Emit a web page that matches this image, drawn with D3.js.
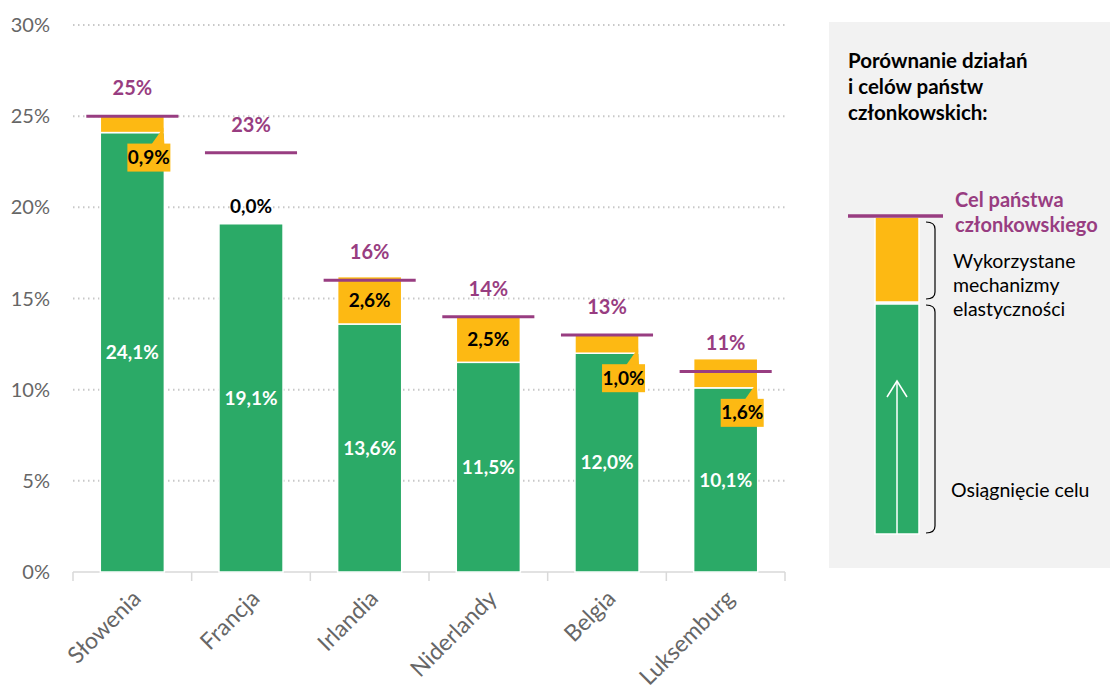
<!DOCTYPE html>
<html>
<head>
<meta charset="utf-8">
<script src="https://cdn.jsdelivr.net/npm/d3@7"></script>
<style>
  body { margin: 0; background: #fff; }
  svg { display: block; font-family: Lato, "Open Sans", sans-serif; }
</style>
</head>
<body>
<svg id="chart" width="1110" height="686"></svg>
<script>
// data
const countries = ["Słowenia", "Francja", "Irlandia", "Niderlandy", "Belgia", "Luksemburg"];
const achieved = [24.1, 19.1, 13.6, 11.5, 12.0, 10.1];
const flexibility = [0.9, 0.0, 2.6, 2.5, 1.0, 1.6];
const targets = [25, 23, 16, 14, 13, 11];
const yTicks = [0, 5, 10, 15, 20, 25, 30];

const green = "#2BAA67", orange = "#FDB913", purple = "#983D81";
const fmt = v => v.toFixed(1).replace(".", ",") + "%";

const svg = d3.select("#chart");

const x = d3.scaleBand().domain(countries).range([73, 785]).padding(0);
const y = d3.scaleLinear().domain([0, 30]).range([572, 25]);
const barW = x.bandwidth() * 0.54;

// gridlines + y labels
svg.append("g").selectAll("line").data(yTicks.filter(d => d > 0)).join("line")
    .attr("x1", 73).attr("x2", 785)
    .attr("y1", d => y(d)).attr("y2", d => y(d))
    .attr("stroke", "#C8C8C8").attr("stroke-width", 2)
    .attr("stroke-dasharray", "1.5,3.5");

svg.append("g").selectAll("text").data(yTicks).join("text")
    .attr("x", 50).attr("y", d => y(d)).attr("dy", "0.35em")
    .attr("text-anchor", "end")
    .attr("font-size", 20).attr("fill", "#666")
    .text(d => d + "%");

// x axis
const xAxis = svg.append("g");
xAxis.append("line").attr("x1", 73).attr("x2", 785).attr("y1", 572).attr("y2", 572)
    .attr("stroke", "#D9D9D9").attr("stroke-width", 1.5);
xAxis.selectAll("line.tick").data(countries.concat(["end"])).join("line")
    .attr("class", "tick")
    .attr("x1", (d, i) => 73 + i * x.step()).attr("x2", (d, i) => 73 + i * x.step())
    .attr("y1", 572).attr("y2", 581)
    .attr("stroke", "#D9D9D9").attr("stroke-width", 1.5);
xAxis.selectAll("text").data(countries).join("text")
    .attr("transform", d => `translate(${x(d) + x.bandwidth() / 2 + 10},${600}) rotate(-45)`)
    .attr("text-anchor", "end")
    .attr("font-size", 23).attr("fill", "#666")
    .text(d => d);

const rows = countries.map((c, i) => ({
    c: c, a: achieved[i], f: flexibility[i], t: targets[i]
}));

const bars = svg.append("g");
const bx = d => x(d.c) + (x.bandwidth() - barW) / 2;

// green bars
bars.selectAll("rect.g").data(rows).join("rect")
    .attr("x", bx).attr("width", barW)
    .attr("y", d => y(d.a)).attr("height", d => y(0) - y(d.a))
    .attr("fill", green).attr("stroke", "#fff").attr("stroke-width", 1.5);

// orange segments
bars.selectAll("rect.o").data(rows.filter(d => d.f > 0)).join("rect")
    .attr("x", bx).attr("width", barW)
    .attr("y", d => y(d.a + d.f)).attr("height", d => y(d.a) - y(d.a + d.f))
    .attr("fill", orange).attr("stroke", "#fff").attr("stroke-width", 1.5);

// green labels
bars.selectAll("text.g").data(rows).join("text")
    .attr("x", d => bx(d) + barW / 2).attr("y", d => (y(d.a) + y(0)) / 2)
    .attr("dy", "0.35em").attr("text-anchor", "middle")
    .attr("font-size", 19).attr("font-weight", "bold").attr("fill", "#fff")
    .text(d => fmt(d.a));

// orange labels: inside when tall enough, callout otherwise
rows.forEach(d => {
    const cx = bx(d) + barW / 2;
    if (d.f === 0) {
        bars.append("text").attr("x", cx).attr("y", y(d.a) - 17).attr("dy", "0.35em")
            .attr("text-anchor", "middle").attr("font-size", 19).attr("font-weight", "bold")
            .attr("fill", "#000").text(fmt(d.f));
    } else if (d.f >= 2) {
        bars.append("text").attr("x", cx).attr("y", (y(d.a) + y(d.a + d.f)) / 2).attr("dy", "0.35em")
            .attr("text-anchor", "middle").attr("font-size", 19).attr("font-weight", "bold")
            .attr("fill", "#000").text(fmt(d.f));
    } else {
        const right = bx(d) + barW;
        const left = right - 37, top = y(d.a) + 11, w = 43, h = 28;
        bars.append("polygon")
            .attr("points", [[left + w - 19, top + 1], [right - 1, y(d.a) - 5], [left + w - 6, top + 1]].join(" "))
            .attr("fill", orange);
        bars.append("rect").attr("x", left).attr("y", top).attr("width", w).attr("height", h)
            .attr("fill", orange);
        bars.append("text").attr("x", left + w / 2).attr("y", top + h / 2).attr("dy", "0.35em")
            .attr("text-anchor", "middle").attr("font-size", 19).attr("font-weight", "bold")
            .attr("fill", "#000").text(fmt(d.f));
    }
});

// target lines and labels
bars.selectAll("line.t").data(rows).join("line")
    .attr("x1", d => bx(d) - 14).attr("x2", d => bx(d) + barW + 14)
    .attr("y1", d => y(d.t)).attr("y2", d => y(d.t))
    .attr("stroke", purple).attr("stroke-width", 3);
bars.selectAll("text.t").data(rows).join("text")
    .attr("x", d => bx(d) + barW / 2).attr("y", d => y(d.t) - 28)
    .attr("dy", "0.35em").attr("text-anchor", "middle")
    .attr("font-size", 20).attr("font-weight", "bold").attr("fill", purple)
    .text(d => d.t + "%");

// legend panel
const lg = svg.append("g");
lg.append("rect").attr("x", 829).attr("y", 22).attr("width", 281).attr("height", 546).attr("fill", "#F2F2F2");
["Porównanie działań", "i celów państw", "członkowskich:"].forEach((t, i) => {
    lg.append("text").attr("x", 848).attr("y", 68 + i * 26)
        .attr("font-size", 20.5).attr("font-weight", "bold").attr("fill", "#000").text(t);
});
lg.append("rect").attr("x", 875).attr("y", 217).attr("width", 44).attr("height", 85)
    .attr("fill", orange).attr("stroke", "#fff").attr("stroke-width", 1.5);
lg.append("rect").attr("x", 875).attr("y", 304).attr("width", 44).attr("height", 230)
    .attr("fill", green).attr("stroke", "#fff").attr("stroke-width", 1.5);
lg.append("line").attr("x1", 897).attr("x2", 897).attr("y1", 534).attr("y2", 382)
    .attr("stroke", "#fff").attr("stroke-width", 1.5);
lg.append("polyline").attr("points", "887,397 897,381 907,397")
    .attr("fill", "none").attr("stroke", "#fff").attr("stroke-width", 1.5);
lg.append("line").attr("x1", 848).attr("x2", 943).attr("y1", 216).attr("y2", 216)
    .attr("stroke", purple).attr("stroke-width", 3.5);

const brace = (y1, y2) => `M926,${y1} Q935,${y1} 935,${y1 + 7} L935,${y2 - 7} Q935,${y2} 926,${y2}`;
lg.append("path").attr("d", brace(222, 299)).attr("fill", "none").attr("stroke", "#000").attr("stroke-width", 1.2);
lg.append("path").attr("d", brace(305, 533)).attr("fill", "none").attr("stroke", "#000").attr("stroke-width", 1.2);

["Cel państwa", "członkowskiego"].forEach((t, i) => {
    lg.append("text").attr("x", 955).attr("y", 207 + i * 25)
        .attr("font-size", 20).attr("font-weight", "bold").attr("fill", purple).text(t);
});
["Wykorzystane", "mechanizmy", "elastyczności"].forEach((t, i) => {
    lg.append("text").attr("x", 953).attr("y", 268 + i * 24)
        .attr("font-size", 19.5).attr("fill", "#000").text(t);
});
lg.append("text").attr("x", 951).attr("y", 497)
    .attr("font-size", 19.5).attr("fill", "#000").text("Osiągnięcie celu");
</script>
</body>
</html>
